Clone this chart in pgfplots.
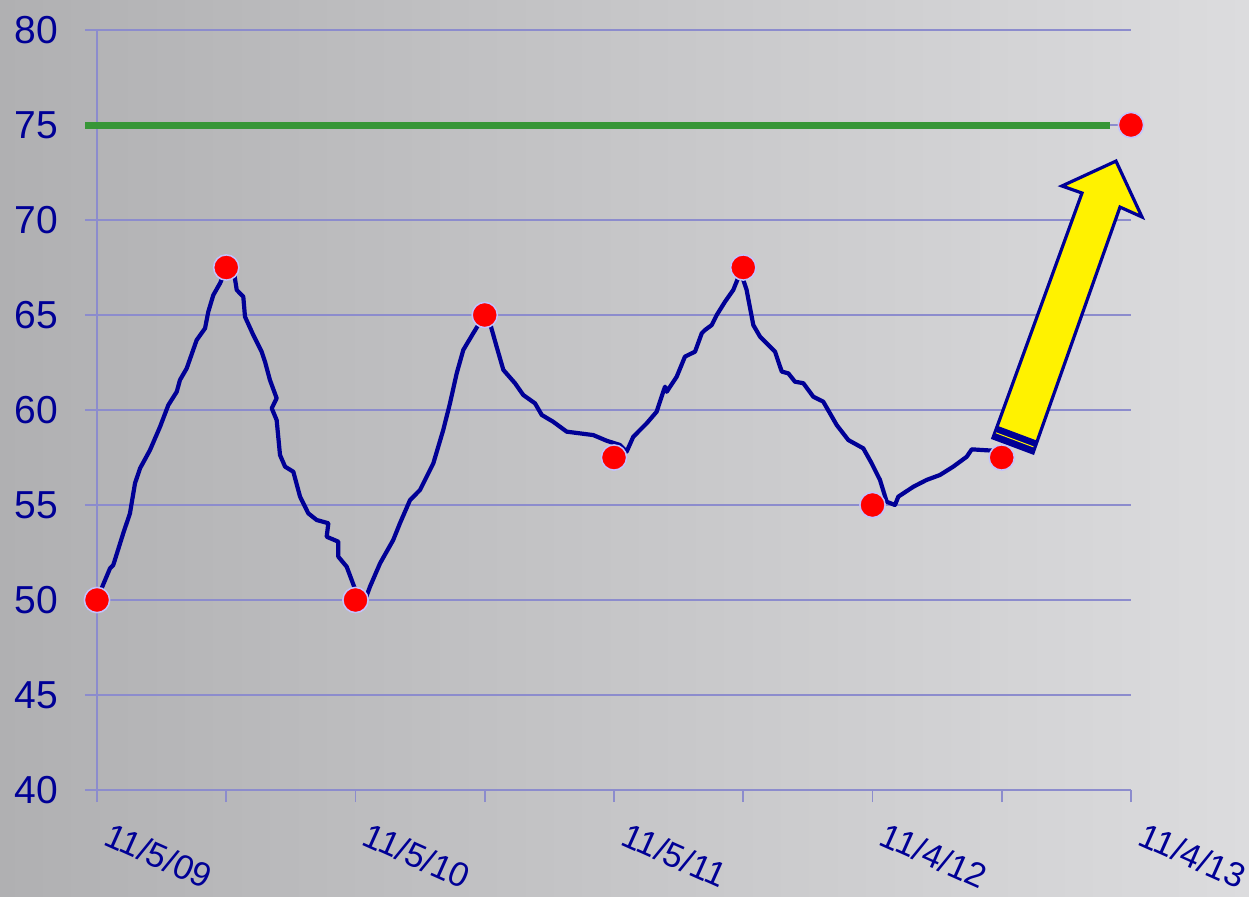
\documentclass[border=0pt]{standalone}
\usepackage{pgfplots}
\pgfplotsset{compat=1.18}
\usepackage{fontspec}
\setmainfont{Liberation Sans}
\definecolor{navyc}{RGB}{0,0,150}
\definecolor{gridc}{RGB}{140,140,205}
\definecolor{greenc}{RGB}{55,150,55}
\definecolor{bgl}{RGB}{176,176,178}
\definecolor{bgr}{RGB}{220,220,222}
\definecolor{dotedge}{RGB}{195,195,255}
\begin{document}
\begin{tikzpicture}
\path[use as bounding box, left color=bgl, right color=bgr] (-48.5pt,-53pt) rectangle (576pt,395pt);
\begin{axis}[
  scale only axis, width=517pt, height=380pt,
  xmin=0, xmax=8, ymin=40, ymax=80,
  clip=false,
  axis lines=left,
  axis line style={gridc, line width=0.8pt, -},
  ytick={40,45,...,80}, xtick={0,...,8},
  xticklabels={11/5/09,,11/5/10,,11/5/11,,11/4/12,,11/4/13},
  tick align=outside, major tick length=6pt,
  tick style={gridc, line width=0.8pt},
  ymajorgrids, grid style={gridc, line width=0.8pt},
  tick label style={text=navyc},
  yticklabel style={font=\fontsize{19.5}{23}\selectfont, xshift=-10pt},
  xticklabel style={font=\fontsize{17.2}{20}\selectfont, xshift=6pt, yshift=-5pt, rotate=-24, anchor=north west},
  /pgf/number format/assume math mode=true,
]
\addplot[greenc, line width=3.5pt, no marks] coordinates {(-0.09,75) (7.84,75)};
\addplot[only marks, mark=*, mark size=6.3pt, mark options={fill=red, draw=dotedge, line width=0.75pt}] coordinates {
(0,50) (1,67.5) (2,50) (3,65) (4,57.5) (5,67.5) (6,55) (7,57.5) (8,75)};
\addplot[navyc, line width=2.1pt, line join=round, line cap=round, no marks] coordinates {
(0.036,50.62) (0.101,51.67) (0.126,51.84) (0.203,53.51) (0.255,54.56) (0.294,56.14) (0.333,56.93)
(0.410,57.89) (0.488,59.12) (0.552,60.26) (0.617,60.96) (0.642,61.58) (0.694,62.19) (0.771,63.68)
(0.836,64.30) (0.861,65.17) (0.900,66.05) (0.952,66.67) (0.990,67.28) (1.016,67.54) (1.055,67.46)
(1.081,66.32) (1.132,65.96) (1.145,64.91) (1.209,63.95) (1.274,63.07) (1.300,62.54) (1.338,61.58)
(1.390,60.62) (1.352,60.09) (1.390,59.47) (1.416,57.63) (1.455,57.02) (1.519,56.75) (1.571,55.44)
(1.635,54.56) (1.700,54.21) (1.790,54.04) (1.777,53.33) (1.867,53.07) (1.867,52.28) (1.932,51.75)
(2.009,50.35) (2.060,49.74) (2.112,50.70) (2.190,51.93) (2.292,53.16) (2.344,54.04) (2.422,55.26)
(2.499,55.79) (2.602,57.19) (2.679,58.95) (2.731,60.35) (2.783,61.93) (2.834,63.16) (2.911,64.04)
(2.989,64.91) (3.041,64.56) (3.092,63.33) (3.144,62.11) (3.234,61.41) (3.298,60.79) (3.389,60.35)
(3.441,59.74) (3.530,59.38) (3.634,58.86) (3.737,58.77) (3.840,58.68) (3.944,58.38) (4.046,58.16)
(4.098,57.81) (4.149,58.59) (4.253,59.30) (4.330,59.91) (4.381,60.96) (4.395,61.23) (4.408,60.96)
(4.485,61.75) (4.549,62.81) (4.627,63.07) (4.679,64.04) (4.704,64.21) (4.756,64.47) (4.795,65.00)
(4.859,65.70) (4.923,66.32) (4.980,67.28) (5.026,66.32) (5.078,64.47) (5.130,63.86) (5.246,63.07)
(5.298,62.02) (5.349,61.93) (5.400,61.49) (5.465,61.41) (5.542,60.70) (5.619,60.44) (5.723,59.21)
(5.813,58.42) (5.929,57.98) (5.994,57.19) (6.058,56.32) (6.110,55.17) (6.174,55.00) (6.200,55.44)
(6.316,55.96) (6.419,56.32) (6.522,56.58) (6.625,57.02) (6.729,57.54) (6.768,57.93) (6.858,57.89)
(6.935,57.86)};
\draw[fill=yellow, draw=navyc, line width=1.6pt, line join=miter]
  (axis cs:6.932,58.53) -- (axis cs:7.621,71.42) -- (axis cs:7.466,71.79) -- (axis cs:7.884,73.10)
  -- (axis cs:8.085,70.16) -- (axis cs:7.915,70.68) -- (axis cs:7.242,57.74) -- cycle;
\fill[navyc] (axis cs:6.932,58.53) -- (axis cs:7.242,57.74) -- (axis cs:7.276,58.38) -- (axis cs:6.966,59.17) -- cycle;
\draw[yellow, line width=0.5pt] (axis cs:6.955,58.80) -- (axis cs:7.245,58.06);
\end{axis}
\end{tikzpicture}
\end{document}
